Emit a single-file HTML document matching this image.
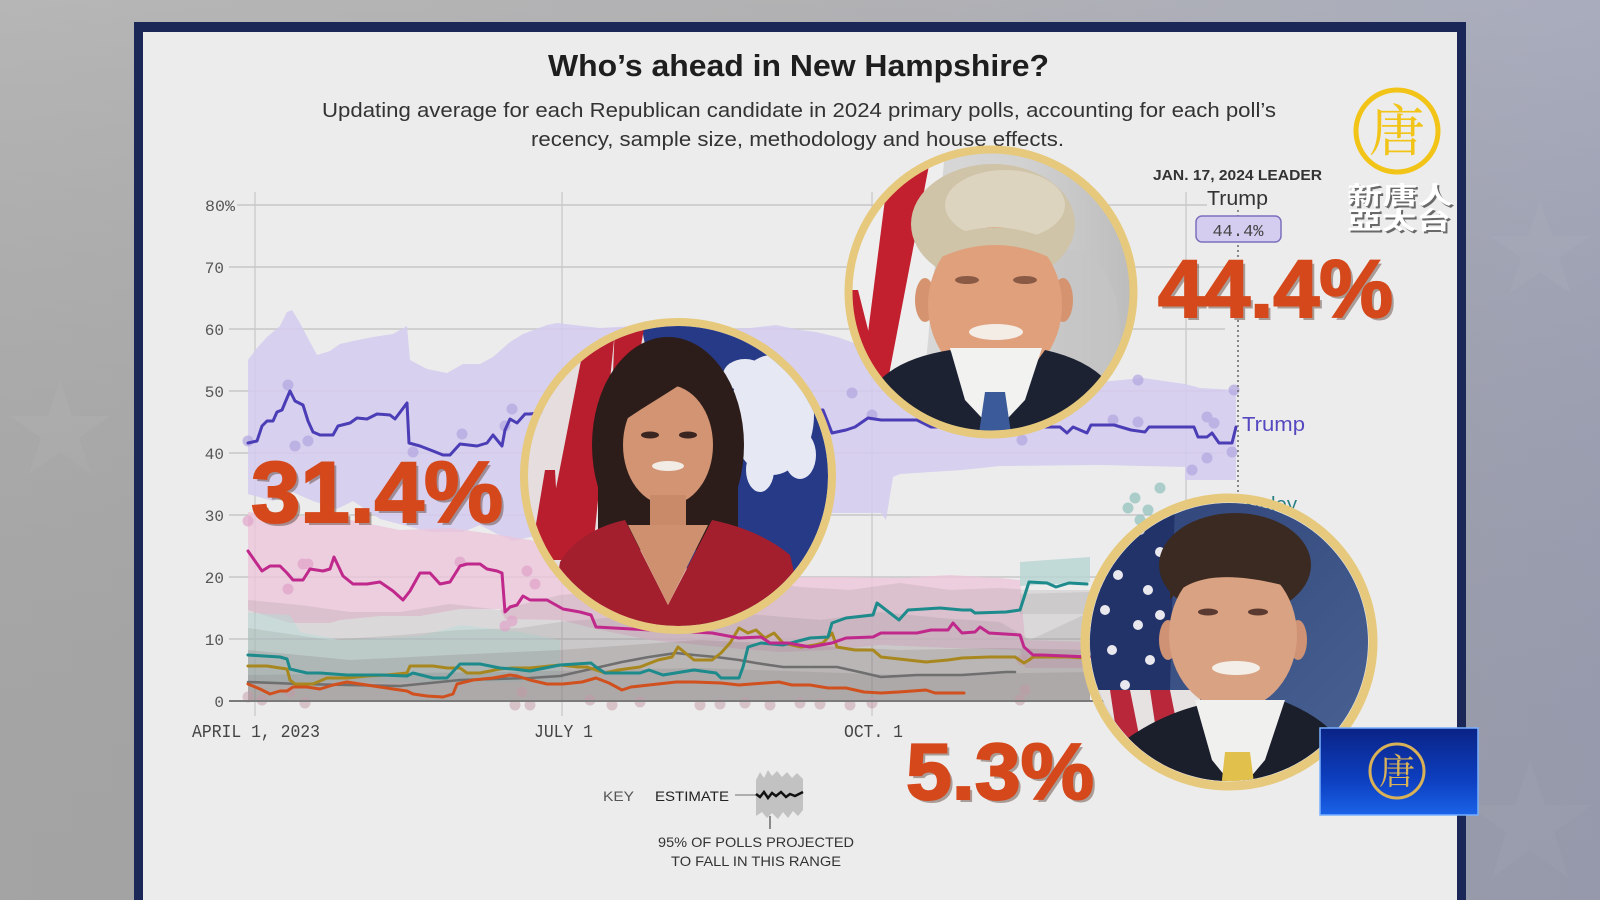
<!DOCTYPE html>
<html><head><meta charset="utf-8"><style>
html,body{margin:0;padding:0;width:1600px;height:900px;overflow:hidden;background:#a8a8aa}
svg{display:block}
</style></head><body>
<svg width="1600" height="900" viewBox="0 0 1600 900" xmlns="http://www.w3.org/2000/svg">
<defs>
<linearGradient id="bg" x1="0" y1="0" x2="1" y2="0">
<stop offset="0" stop-color="#acacac"/><stop offset="0.5" stop-color="#a7a7a9"/><stop offset="1" stop-color="#9da1b4"/>
</linearGradient>
<linearGradient id="bgv" x1="0" y1="0" x2="0" y2="1">
<stop offset="0" stop-color="#ffffff" stop-opacity="0.12"/><stop offset="1" stop-color="#000000" stop-opacity="0.05"/>
</linearGradient>
<linearGradient id="bluebox" x1="0" y1="0" x2="0" y2="1">
<stop offset="0" stop-color="#0a2386"/><stop offset="0.6" stop-color="#0d3fc0"/><stop offset="1" stop-color="#1a62e8"/>
</linearGradient>
<linearGradient id="tbg" x1="0" y1="0" x2="1" y2="0">
<stop offset="0" stop-color="#dcdcdc"/><stop offset="0.6" stop-color="#d2d2d2"/><stop offset="1" stop-color="#bcbcbc"/>
</linearGradient>
<linearGradient id="dbg" x1="0" y1="0" x2="1" y2="1">
<stop offset="0" stop-color="#2e4278"/><stop offset="1" stop-color="#4a6494"/>
</linearGradient>
<clipPath id="ct"><circle cx="991" cy="292" r="139"/></clipPath>
<clipPath id="ch"><circle cx="678" cy="476" r="150"/></clipPath>
<clipPath id="cd"><circle cx="1229" cy="642" r="139"/></clipPath>
</defs>

<!-- background -->
<rect x="0" y="0" width="1600" height="900" fill="url(#bg)"/>
<rect x="0" y="0" width="1600" height="900" fill="url(#bgv)"/>
<g fill="#ffffff" opacity="0.035">
<polygon points="1530,760 1545,805 1592,805 1554,832 1568,878 1530,850 1492,878 1506,832 1468,805 1515,805"/>
<polygon points="1540,200 1552,236 1590,236 1559,258 1571,294 1540,272 1509,294 1521,258 1490,236 1528,236"/>
<polygon points="60,380 72,416 110,416 79,438 91,474 60,452 29,474 41,438 10,416 48,416"/>
</g>

<!-- frame and panel -->
<rect x="134" y="22" width="1332" height="890" fill="#1b2857"/>
<rect x="143" y="32" width="1314" height="880" fill="#ececec"/>

<!-- titles -->
<text x="548" y="76" font-family="Liberation Sans, sans-serif" font-weight="bold" font-size="31" fill="#1e1e1e" textLength="501" lengthAdjust="spacingAndGlyphs">Who’s ahead in New Hampshire?</text>
<text x="322" y="117" font-family="Liberation Sans, sans-serif" font-size="20" fill="#333" textLength="954" lengthAdjust="spacingAndGlyphs">Updating average for each Republican candidate in 2024 primary polls, accounting for each poll’s</text>
<text x="531" y="146" font-family="Liberation Sans, sans-serif" font-size="20" fill="#333" textLength="533" lengthAdjust="spacingAndGlyphs">recency, sample size, methodology and house effects.</text>

<!-- gridlines -->
<g stroke="#c6c6c6" stroke-width="1.5">
<line x1="237" y1="205" x2="1207" y2="205"/>
<line x1="229" y1="267" x2="1225" y2="267"/>
<line x1="229" y1="329" x2="1225" y2="329"/>
<line x1="229" y1="391" x2="1225" y2="391"/>
<line x1="229" y1="453" x2="1225" y2="453"/>
<line x1="229" y1="515" x2="1225" y2="515"/>
<line x1="229" y1="577" x2="1225" y2="577"/>
<line x1="229" y1="639" x2="1225" y2="639"/>
</g>
<g stroke="#c9c9c9" stroke-width="1.3">
<line x1="255" y1="192" x2="255" y2="716"/>
<line x1="562" y1="192" x2="562" y2="716"/>
<line x1="872" y1="192" x2="872" y2="716"/>
<line x1="1186" y1="192" x2="1186" y2="716"/>
</g>

<!-- y labels -->
<g font-family="Liberation Mono, monospace" font-size="16" fill="#555">
<text x="205" y="211" textLength="30" lengthAdjust="spacingAndGlyphs">80%</text>
<text x="224" y="273" text-anchor="end">70</text>
<text x="224" y="335" text-anchor="end">60</text>
<text x="224" y="397" text-anchor="end">50</text>
<text x="224" y="459" text-anchor="end">40</text>
<text x="224" y="521" text-anchor="end">30</text>
<text x="224" y="583" text-anchor="end">20</text>
<text x="224" y="645" text-anchor="end">10</text>
<text x="224" y="707" text-anchor="end">0</text>
</g>
<!-- x labels -->
<g font-family="Liberation Mono, monospace" font-size="18" fill="#444">
<text x="192" y="737" textLength="128" lengthAdjust="spacingAndGlyphs">APRIL 1, 2023</text>
<text x="534" y="737" textLength="59" lengthAdjust="spacingAndGlyphs">JULY 1</text>
<text x="844" y="737" textLength="59" lengthAdjust="spacingAndGlyphs">OCT. 1</text>
</g>

<!-- bands -->
<polygon fill="#d3cbee" opacity="0.85" points="248,360 257,348 267,337 280,326 287,312 292,310 300,323 310,342 317,355 330,351 340,344 353,341 373,337 393,334 407,326 410,360 427,369 447,373 463,364 480,364 493,357 510,342 523,334 547,325 557,323 600,328 650,325 700,330 750,328 776,325 800,330 816,332 837,337 860,345 870,365 878,378 918,378 960,382 1000,384 1050,384 1100,382 1143,378 1185,384 1200,388 1236,390 1236,480 1185,480 1185,467 1100,465 1000,466 962,470 900,474 893,477 886,520 881,513 828,513 800,515 760,522 700,528 650,532 600,536 560,538 530,537 513,541 497,534 480,525 463,532 430,532 407,526 380,519 353,501 337,509 313,501 290,491 273,501 248,494"/>
<polygon fill="#ecc4da" opacity="0.75" points="248,512 300,516 350,520 400,530 450,528 500,535 560,545 600,560 650,570 700,575 750,578 800,577 850,577 900,578 950,575 1000,578 1020,580 1025,640 1090,642 1090,668 1025,668 1020,650 950,648 880,645 830,650 780,652 730,648 700,645 650,640 600,630 560,620 505,619 500,609 460,609 420,616 380,616 340,620 330,623 290,623 248,610"/>
<polygon fill="#9a8a90" opacity="0.2" points="248,600 300,605 350,612 400,612 450,604 500,610 560,595 620,590 680,585 720,580 740,555 750,580 800,587 850,590 900,583 950,590 1000,588 1030,590 1090,590 1090,701 248,701"/>
<polygon fill="#b8dcd8" opacity="0.5" points="248,613 290,615 300,632 340,640 420,636 460,625 520,632 560,640 560,682 248,682"/>
<polygon fill="#8a8a8a" opacity="0.2" points="248,628 330,640 400,635 460,630 520,628 560,622 640,615 700,610 760,615 820,620 880,612 940,618 1000,622 1030,640 1090,612 1090,701 248,701"/>
<polygon fill="#7a7070" opacity="0.2" points="248,650 350,660 450,655 560,650 700,640 800,645 900,650 1000,648 1090,650 1090,701 248,701"/>
<polygon fill="#6a6a6a" opacity="0.16" points="248,675 500,672 700,668 900,675 1090,672 1090,701 248,701"/>
<polygon fill="#b6d4d2" opacity="0.8" points="1020,562 1090,557 1090,582 1020,586"/>
<polygon fill="#a8a8a8" opacity="0.3" points="1020,594 1090,592 1090,614 1020,614"/>

<!-- dots -->
<g fill="#b2a6e0" opacity="0.7">
<circle cx="248" cy="441" r="5.5"/><circle cx="288" cy="385" r="5.5"/><circle cx="295" cy="446" r="5.5"/><circle cx="308" cy="441" r="5.5"/>
<circle cx="462" cy="434" r="5.5"/><circle cx="512" cy="409" r="5.5"/><circle cx="505" cy="426" r="5.5"/><circle cx="852" cy="393" r="5.5"/>
<circle cx="872" cy="415" r="5.5"/><circle cx="1022" cy="440" r="5.5"/><circle cx="1113" cy="420" r="5.5"/><circle cx="1138" cy="422" r="5.5"/>
<circle cx="1207" cy="417" r="5.5"/><circle cx="1214" cy="423" r="5.5"/><circle cx="1232" cy="452" r="5.5"/><circle cx="1192" cy="470" r="5.5"/>
<circle cx="1207" cy="458" r="5.5"/><circle cx="1234" cy="390" r="5.5"/><circle cx="1138" cy="380" r="5.5"/><circle cx="413" cy="452" r="5.5"/>
</g>
<g fill="#e0a0c8" opacity="0.65">
<circle cx="248" cy="521" r="5.5"/><circle cx="303" cy="564" r="5.5"/><circle cx="308" cy="564" r="5.5"/><circle cx="288" cy="589" r="5.5"/>
<circle cx="527" cy="571" r="5.5"/><circle cx="535" cy="584" r="5.5"/><circle cx="505" cy="626" r="5.5"/><circle cx="512" cy="621" r="5.5"/><circle cx="460" cy="562" r="5.5"/>
</g>
<g fill="#c49aa4" opacity="0.5">
<circle cx="248" cy="697" r="5.5"/><circle cx="262" cy="700" r="5.5"/><circle cx="290" cy="692" r="5.5"/><circle cx="305" cy="703" r="5.5"/>
<circle cx="515" cy="705" r="5.5"/><circle cx="522" cy="692" r="5.5"/><circle cx="530" cy="705" r="5.5"/><circle cx="590" cy="700" r="5.5"/>
<circle cx="612" cy="705" r="5.5"/><circle cx="640" cy="702" r="5.5"/><circle cx="700" cy="705" r="5.5"/><circle cx="720" cy="704" r="5.5"/>
<circle cx="745" cy="703" r="5.5"/><circle cx="770" cy="705" r="5.5"/><circle cx="800" cy="703" r="5.5"/><circle cx="820" cy="704" r="5.5"/>
<circle cx="850" cy="705" r="5.5"/><circle cx="872" cy="703" r="5.5"/><circle cx="1020" cy="700" r="5.5"/><circle cx="1025" cy="690" r="5.5"/><circle cx="1022" cy="660" r="5.5"/>
</g>
<g fill="#9ac6c2" opacity="0.8">
<circle cx="1135" cy="498" r="5.5"/><circle cx="1148" cy="510" r="5.5"/><circle cx="1140" cy="520" r="5.5"/><circle cx="1160" cy="488" r="5.5"/><circle cx="1128" cy="508" r="5.5"/>
</g>

<!-- axis -->
<line x1="229" y1="701" x2="1225" y2="701" stroke="#7a7a7a" stroke-width="2"/>

<!-- lines -->
<g fill="none" stroke-width="3" stroke-linejoin="round" stroke-linecap="round">
<polyline stroke="#6f6f6f" stroke-width="2.6" points="248,682 300,684 400,686 460,680 530,678 560,676 622,662 649,657 676,653 694,655 716,657 739,660 756,663 783,667 810,667 837,667 864,673 881,677 917,675 962,675 1006,672 1015,672"/>
<polyline stroke="#d0501e" points="248,684 260,689 270,694 280,691 287,691 293,687 307,687 320,689 333,685 347,682 360,684 380,687 393,689 407,691 413,694 427,696 443,697 453,694 457,684 473,680 493,678 510,675 517,676 530,680 547,684 563,684 582,682 596,678 609,683 622,690 631,687 649,685 676,682 694,682 721,683 739,685 765,683 779,682 792,685 810,685 828,688 846,688 864,692 881,693 899,692 926,690 935,693 964,693"/>
<polyline stroke="#a8881e" points="248,666 267,666 280,668 287,669 290,680 295,684 313,684 327,678 347,678 367,676 387,675 407,673 410,666 433,666 447,668 460,668 467,673 480,673 500,669 513,668 530,668 560,665 578,667 587,667 605,673 618,670 640,667 658,660 672,657 678,647 694,660 712,660 721,653 730,643 739,628 748,633 756,630 765,638 774,633 783,643 801,647 815,645 823,643 832,633 837,647 855,650 873,650 881,657 908,660 926,662 948,660 962,658 989,657 1015,657 1024,663 1029,660 1033,657 1051,657 1069,657 1085,658"/>
<polyline stroke="#1d8a8c" points="248,655 280,657 287,659 290,669 307,673 320,673 347,675 380,675 407,676 413,673 433,678 447,678 460,664 480,664 500,668 513,669 530,671 560,665 591,663 596,667 605,673 640,673 649,670 663,675 694,670 716,673 721,678 739,678 743,667 748,647 761,643 783,645 810,638 828,637 832,623 846,618 873,615 877,603 890,613 899,620 908,610 940,608 962,610 971,610 975,613 1006,612 1020,610 1029,582 1047,583 1056,587 1069,583 1087,584"/>
<polyline stroke="#c0288c" points="248,551 262,571 270,566 280,566 287,573 293,580 303,580 310,569 323,571 330,569 334,557 343,576 353,584 367,584 380,582 393,591 403,600 410,591 420,573 430,573 440,584 450,582 460,566 467,564 480,564 487,569 497,571 502,573 505,612 510,607 517,605 523,596 530,600 547,600 563,609 580,612 591,615 596,627 650,630 712,633 739,638 761,637 770,643 788,643 810,647 832,643 846,638 873,637 881,633 917,633 931,630 948,630 953,623 962,633 975,632 980,627 989,633 1020,635 1024,647 1033,655 1042,655 1090,657"/>
<polyline stroke="#4a3db6" points="248,443 257,441 262,426 267,421 273,421 277,412 282,410 287,398 290,391 295,401 303,405 308,421 313,432 320,435 333,435 338,426 350,423 357,418 367,419 377,414 390,415 395,419 407,403 409,443 420,446 433,451 443,455 450,455 460,444 477,446 487,443 493,435 502,446 505,430 510,419 517,423 525,414 530,414 560,410 600,412 700,414 800,412 823,410 832,433 846,430 855,427 868,418 881,420 917,420 931,427 1000,427 1047,427 1060,427 1067,433 1073,427 1087,433 1091,425 1114,425 1131,430 1145,432 1149,427 1194,427 1198,437 1207,437 1212,433 1219,443 1232,443 1236,427"/>
</g>

<!-- leader -->
<line x1="1238" y1="210" x2="1238" y2="701" stroke="#666" stroke-width="1.5" stroke-dasharray="2,3"/>
<text x="1153" y="180" font-family="Liberation Sans, sans-serif" font-weight="bold" font-size="14.5" fill="#333" textLength="169" lengthAdjust="spacingAndGlyphs">JAN. 17, 2024 LEADER</text>
<text x="1207" y="205" font-family="Liberation Sans, sans-serif" font-size="20" fill="#333" textLength="61" lengthAdjust="spacingAndGlyphs">Trump</text>
<rect x="1196" y="216" width="85" height="26" rx="6" fill="#d5cdf0" stroke="#7d70bd" stroke-width="1.5"/>
<text x="1238" y="236" text-anchor="middle" font-family="Liberation Mono, monospace" font-size="17" fill="#444">44.4%</text>
<text x="1242" y="431" font-family="Liberation Sans, sans-serif" font-size="20" fill="#5548c0" textLength="63" lengthAdjust="spacingAndGlyphs">Trump</text>
<text x="1245" y="511" font-family="Liberation Sans, sans-serif" font-size="20" fill="#2a7f84" textLength="52" lengthAdjust="spacingAndGlyphs">Haley</text>

<!-- key -->
<text x="603" y="801" font-family="Liberation Sans, sans-serif" font-size="14" fill="#555" textLength="31" lengthAdjust="spacingAndGlyphs">KEY</text>
<text x="655" y="801" font-family="Liberation Sans, sans-serif" font-size="14" fill="#222" textLength="74" lengthAdjust="spacingAndGlyphs">ESTIMATE</text>
<line x1="735" y1="795" x2="756" y2="795" stroke="#999" stroke-width="1.5"/>
<path d="M756,780 L760,772 764,778 768,770 772,776 777,771 782,777 787,772 792,778 797,773 803,779 L803,810 798,816 793,811 788,818 783,812 778,819 772,813 767,818 762,812 756,816 Z" fill="#c2c2c2"/>
<polyline points="756,794 760,797 764,792 768,798 772,793 776,796 781,792 786,797 790,794 795,796 803,792" fill="none" stroke="#111" stroke-width="2.5"/>
<line x1="770" y1="816" x2="770" y2="829" stroke="#555" stroke-width="1.3"/>
<text x="658" y="847" font-family="Liberation Sans, sans-serif" font-size="14" fill="#333" textLength="196" lengthAdjust="spacingAndGlyphs">95% OF POLLS PROJECTED</text>
<text x="671" y="866" font-family="Liberation Sans, sans-serif" font-size="14" fill="#333" textLength="170" lengthAdjust="spacingAndGlyphs">TO FALL IN THIS RANGE</text>

<!-- Trump photo -->
<g clip-path="url(#ct)">
<rect x="850" y="150" width="285" height="285" fill="url(#tbg)"/>
<ellipse cx="1070" cy="330" rx="50" ry="80" fill="#c4c4c4" opacity="0.6"/>
<polygon points="850,150 945,150 920,430 850,430" fill="#eeeeee"/>
<polygon points="890,160 930,160 888,380 862,380" fill="#c21f2f"/>
<polygon points="850,290 858,290 882,385 850,385" fill="#c21f2f"/>
<ellipse cx="993" cy="224" rx="82" ry="60" fill="#cfc3a8"/>
<ellipse cx="1005" cy="205" rx="60" ry="35" fill="#ddd4c0"/>
<ellipse cx="925" cy="300" rx="10" ry="22" fill="#d5946f"/>
<ellipse cx="1063" cy="300" rx="10" ry="22" fill="#d5946f"/>
<ellipse cx="995" cy="305" rx="67" ry="78" fill="#e0a07c"/>
<path d="M935,260 Q995,230 1055,260 L1050,240 Q995,215 940,240 Z" fill="#cfc3a8"/>
<ellipse cx="967" cy="280" rx="12" ry="4" fill="#8a5a45"/>
<ellipse cx="1025" cy="280" rx="12" ry="4" fill="#8a5a45"/>
<ellipse cx="996" cy="332" rx="27" ry="8" fill="#f3ede6"/>
<path d="M870,440 L878,382 Q900,358 950,350 L995,420 L1045,350 Q1090,360 1110,385 L1125,440 Z" fill="#1d2233"/>
<polygon points="950,348 1042,348 1025,400 995,432 965,400" fill="#f2f2f0"/>
<polygon points="985,392 1005,392 1012,440 978,440" fill="#3a5a9a"/>
</g>
<circle cx="991" cy="292" r="142.5" fill="none" stroke="#e6c97c" stroke-width="8"/>

<!-- Haley photo -->
<g clip-path="url(#ch)">
<rect x="520" y="318" width="320" height="320" fill="#e6dede"/>
<polygon points="640,318 840,318 840,640 700,640" fill="#273a88"/>
<polygon points="587,330 615,330 592,560 542,560" fill="#b81e2e"/>
<polygon points="615,322 645,322 632,400 612,400" fill="#b81e2e"/>
<polygon points="545,470 555,470 560,560 530,560" fill="#b81e2e"/>
<g fill="#e6e9f4">
<ellipse cx="772" cy="415" rx="42" ry="60"/>
<ellipse cx="745" cy="375" rx="22" ry="16"/>
<ellipse cx="800" cy="380" rx="22" ry="16"/>
<ellipse cx="760" cy="470" rx="14" ry="22"/>
<ellipse cx="800" cy="455" rx="16" ry="24"/>
</g>
<ellipse cx="668" cy="445" rx="76" ry="108" fill="#2c1d1a"/>
<rect x="598" y="440" width="140" height="110" fill="#2c1d1a"/>
<ellipse cx="668" cy="445" rx="45" ry="60" fill="#d29473"/>
<path d="M625,420 Q640,360 700,372 Q680,385 640,410 Z" fill="#2c1d1a"/>
<ellipse cx="650" cy="435" rx="9" ry="3.5" fill="#3a2520"/>
<ellipse cx="688" cy="435" rx="9" ry="3.5" fill="#3a2520"/>
<ellipse cx="668" cy="466" rx="16" ry="5" fill="#f2ece6"/>
<rect x="650" y="495" width="36" height="40" fill="#c98a6a"/>
<path d="M548,640 L560,562 Q580,530 625,520 L668,605 L712,520 Q760,530 790,555 L810,640 Z" fill="#a31f2e"/>
<polygon points="628,525 708,525 668,605" fill="#cf9070"/>
</g>
<circle cx="678" cy="476" r="154" fill="none" stroke="#e6c97c" stroke-width="8"/>

<!-- DeSantis photo -->
<g clip-path="url(#cd)">
<rect x="1085" y="498" width="290" height="290" fill="url(#dbg)"/>
<polygon points="1085,498 1175,498 1170,690 1085,690" fill="#22336a"/>
<g fill="#e8e8ee">
<circle cx="1110" cy="540" r="5"/><circle cx="1140" cy="530" r="5"/><circle cx="1160" cy="552" r="5"/><circle cx="1118" cy="575" r="5"/>
<circle cx="1148" cy="590" r="5"/><circle cx="1105" cy="610" r="5"/><circle cx="1138" cy="625" r="5"/><circle cx="1160" cy="615" r="5"/>
<circle cx="1112" cy="650" r="5"/><circle cx="1150" cy="660" r="5"/><circle cx="1125" cy="685" r="5"/>
</g>
<polygon points="1085,690 1200,690 1200,790 1085,790" fill="#e6e2e2"/>
<polygon points="1110,690 1130,690 1150,790 1125,790" fill="#b8283a"/>
<polygon points="1150,690 1170,690 1190,790 1165,790" fill="#b8283a"/>
<polygon points="1085,700 1098,700 1105,790 1085,790" fill="#b8283a"/>
<ellipse cx="1235" cy="565" rx="76" ry="52" fill="#3a2a22"/>
<ellipse cx="1168" cy="640" rx="9" ry="20" fill="#cf9274"/>
<ellipse cx="1298" cy="640" rx="9" ry="20" fill="#cf9274"/>
<ellipse cx="1233" cy="635" rx="64" ry="75" fill="#d9a282"/>
<path d="M1170,600 Q1200,560 1300,590 L1300,560 Q1240,520 1170,565 Z" fill="#3a2a22"/>
<ellipse cx="1208" cy="612" rx="10" ry="3.5" fill="#5a3a30"/>
<ellipse cx="1258" cy="612" rx="10" ry="3.5" fill="#5a3a30"/>
<ellipse cx="1236" cy="668" rx="24" ry="7" fill="#f3eee8"/>
<path d="M1110,800 L1125,740 Q1160,715 1200,705 L1238,790 L1280,700 Q1320,715 1340,740 L1350,800 Z" fill="#1b1f2b"/>
<polygon points="1195,700 1285,700 1265,760 1238,792 1212,760" fill="#f0f0ee"/>
<polygon points="1225,752 1250,752 1256,798 1220,798" fill="#e2c04c"/>
</g>
<circle cx="1229" cy="642" r="144" fill="none" stroke="#e6c97c" stroke-width="9"/>

<!-- big numbers -->
<g font-family="Liberation Sans, sans-serif" font-weight="bold">
<text x="1161" y="320" font-size="82" fill="#5a3a30" opacity="0.45" textLength="235" lengthAdjust="spacingAndGlyphs">44.4%</text>
<text x="1158" y="317" font-size="82" fill="#d5481b" stroke="#d5481b" stroke-width="2" textLength="235" lengthAdjust="spacingAndGlyphs">44.4%</text>
<text x="254" y="525" font-size="86" fill="#5a3a30" opacity="0.45" textLength="252" lengthAdjust="spacingAndGlyphs">31.4%</text>
<text x="251" y="522" font-size="86" fill="#d5481b" stroke="#d5481b" stroke-width="2" textLength="252" lengthAdjust="spacingAndGlyphs">31.4%</text>
<text x="909" y="802" font-size="80" fill="#5a3a30" opacity="0.45" textLength="188" lengthAdjust="spacingAndGlyphs">5.3%</text>
<text x="906" y="799" font-size="80" fill="#d5481b" stroke="#d5481b" stroke-width="2" textLength="188" lengthAdjust="spacingAndGlyphs">5.3%</text>
</g>

<!-- top right logo -->
<circle cx="1397" cy="131" r="41" fill="none" stroke="#f2c418" stroke-width="5"/>
<text x="1397" y="151" text-anchor="middle" font-family="Noto Serif CJK SC, Noto Sans CJK SC, serif" font-size="56" fill="#f2c418">唐</text>
<g font-family="Noto Sans CJK TC, Noto Sans CJK SC, sans-serif" font-weight="bold" font-size="34">
<text transform="translate(1349,206) scale(1,0.72)" fill="#333" opacity="0.7" textLength="106" lengthAdjust="spacingAndGlyphs">新唐人</text>
<text transform="translate(1347,204) scale(1,0.72)" fill="#ffffff" textLength="106" lengthAdjust="spacingAndGlyphs">新唐人</text>
<text transform="translate(1349,231) scale(1,0.72)" fill="#333" opacity="0.7" textLength="104" lengthAdjust="spacingAndGlyphs">亞太台</text>
<text transform="translate(1347,229) scale(1,0.72)" fill="#ffffff" textLength="104" lengthAdjust="spacingAndGlyphs">亞太台</text>
</g>

<!-- blue box logo -->
<rect x="1320" y="728" width="158" height="87" fill="url(#bluebox)" stroke="#78b0ff" stroke-width="1.5"/>
<circle cx="1397" cy="771" r="27" fill="none" stroke="#d9b258" stroke-width="3"/>
<text x="1397" y="784" text-anchor="middle" font-family="Noto Serif CJK SC, Noto Sans CJK SC, serif" font-size="36" fill="#d9b258">唐</text>
</svg>
</body></html>
